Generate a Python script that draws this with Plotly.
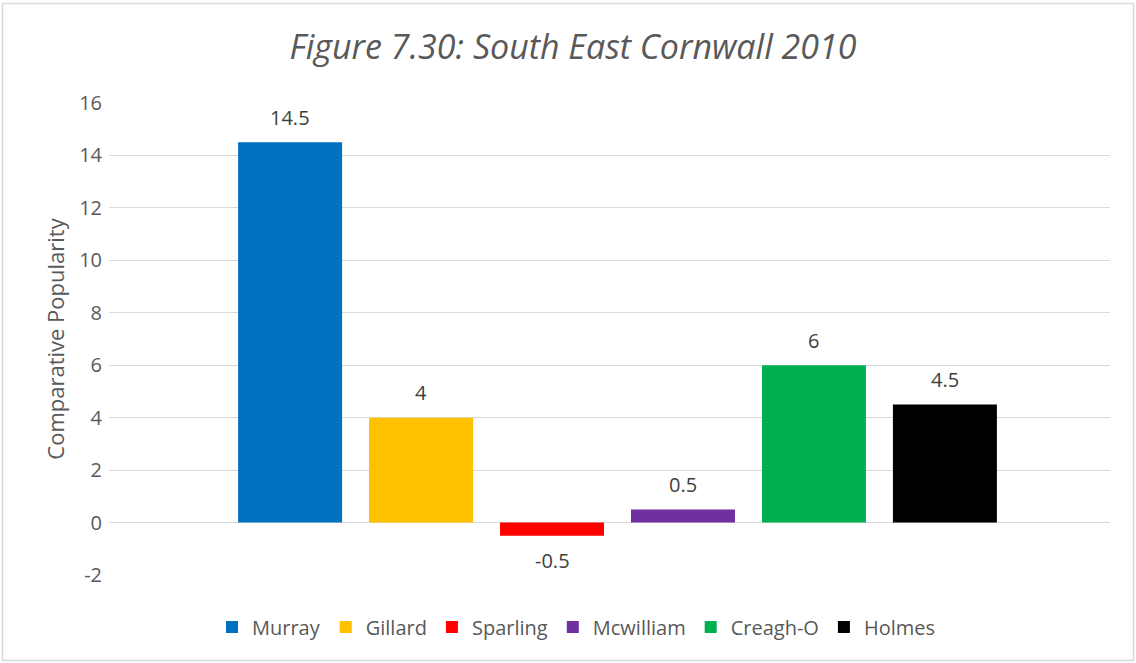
import plotly.graph_objects as go

candidates = ["Murray", "Gillard", "Sparling", "Mcwilliam", "Creagh-O", "Holmes"]
values = [14.5, 4, -0.5, 0.5, 6, 4.5]
colors = ["#0070C0", "#FFC000", "#FF0000", "#7030A0", "#00B050", "#000000"]
labels = ["14.5", "4", "-0.5", "0.5", "6", "4.5"]
y_ticks = [-2, 0, 2, 4, 6, 8, 10, 12, 14, 16]
y_tick_text = ["-2", "0", "2", "4", "6", "8", "10", "12", "14", "16"]

W, H = 1136, 663
ml, mr, mt, mb = 109, 26, 103, 88
pw = W - ml - mr
ph = H - mt - mb
bargap = 0.215

fig = go.Figure()
for name, v, c in zip(candidates, values, colors):
    fig.add_trace(go.Bar(
        x=[0], y=[v], name=name, marker=dict(color=c, line=dict(width=0)),
    ))

# data labels as annotations placed at each bar's centre within the group
n = len(candidates)
slot = (1 - bargap) / n
annotations = []
for i, (v, t) in enumerate(zip(values, labels)):
    xc = -(1 - bargap) / 2 + slot * (i + 0.5)
    annotations.append(dict(
        x=xc, y=v, xref="x", yref="y", text=t, showarrow=False,
        yanchor="middle", yshift=25 if v >= 0 else -25,
        font=dict(family="Open Sans", size=20, color="#404040")))

shift = 8 / pw
fig.update_layout(
    width=W, height=H,
    margin=dict(l=ml, r=mr, t=mt, b=mb),
    paper_bgcolor="white", plot_bgcolor="white",
    barmode="group", bargap=bargap, bargroupgap=0.206,
    title=dict(text="<i>Figure 7.30: South East Cornwall 2010</i>",
               font=dict(family="Open Sans", size=34, color="#595959"),
               x=573 / W, xanchor="center", xref="container",
               y=1 - 47 / H, yanchor="middle", yref="container"),
    xaxis=dict(type="linear", showticklabels=False, showgrid=False, zeroline=False,
               range=[-0.5 - shift, 0.5 - shift]),
    yaxis=dict(range=[-2, 16], tickvals=y_ticks, ticktext=y_tick_text, showgrid=True,
               gridcolor="#D9D9D9", gridwidth=1.3, zeroline=True,
               zerolinecolor="#D9D9D9", zerolinewidth=1.3,
               tickfont=dict(family="Open Sans", size=20, color="#595959"),
               ticks="", ticklen=0, ticklabelstandoff=6,
               title=dict(text="Comparative Popularity",
                          font=dict(family="Open Sans", size=22, color="#595959"),
                          standoff=8)),
    legend=dict(orientation="h", x=(576.5 - ml) / pw, xanchor="center",
                y=(H - mb - 627) / ph, yanchor="middle",
                font=dict(family="Open Sans", size=20, color="#595959"),
                itemwidth=30, tracegroupgap=0),
    showlegend=True,
    annotations=annotations,
)

fig.add_shape(type="rect", xref="paper", yref="paper",
              x0=(2.5 - ml) / pw, x1=(1133.5 - ml) / pw,
              y0=(H - mb - 660.5) / ph, y1=(H - mb - 3.5) / ph,
              line=dict(color="#D9D9D9", width=1.5), fillcolor="rgba(0,0,0,0)",
              layer="below")

fig.write_html("out.html", config={"displayModeBar": False},
               post_script="document.body.style.margin='0';")
